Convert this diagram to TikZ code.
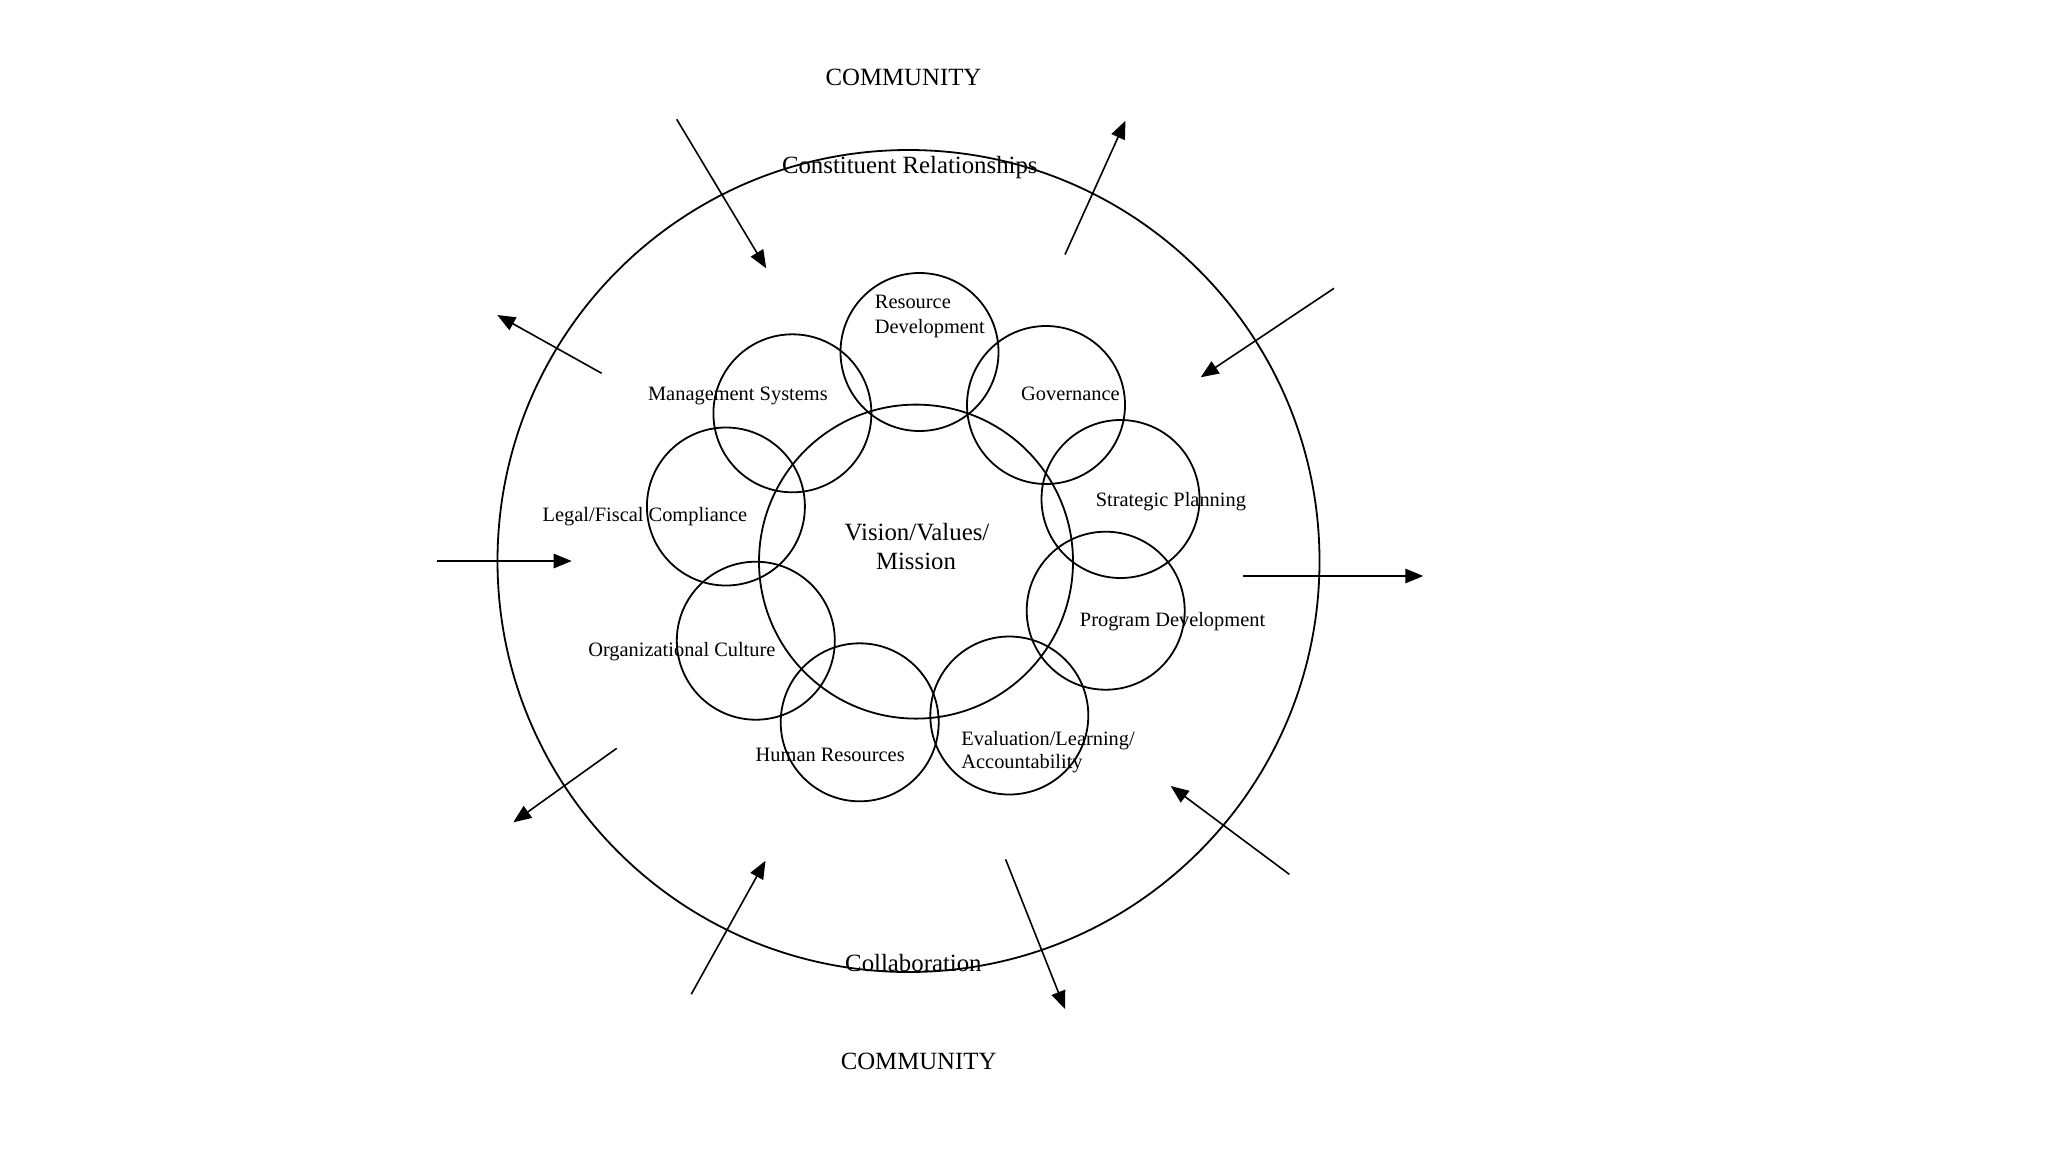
\documentclass[tikz,border=0pt]{standalone}
\usepackage{fontspec}
\setmainfont{Liberation Serif}
\usetikzlibrary{arrows.meta}
\begin{document}
\begin{tikzpicture}[x=0.5pt,y=-0.5pt,
  ring/.style={draw=black,line width=0.9pt},
  flow/.style={draw=black,line width=0.8pt,-{Triangle[length=9pt,width=7.2pt]}},
  big/.style={font=\fontsize{12.4}{14}\selectfont,inner sep=0pt},
  small/.style={font=\fontsize{10.2}{12}\selectfont,inner sep=0pt}]
\useasboundingbox[fill=white] (0,0) rectangle (2048,1152);

% circle centres
\coordinate (outerc) at (908.5,561);
\coordinate (visc) at (916,561.6);
\coordinate (rdc) at (919.5,352);
\coordinate (gvc) at (1046,405);
\coordinate (spc) at (1120.5,499);
\coordinate (pdc) at (1105.7,610.7);
\coordinate (elc) at (1009.3,715.5);
\coordinate (hrc) at (859.7,722.3);
\coordinate (occ) at (755.8,640.7);
\coordinate (lfc) at (725.9,506.5);
\coordinate (msc) at (792.4,413.3);

\draw[ring] (outerc) circle[radius=411];
\draw[ring] (visc) circle[radius=157];
\foreach \c in {rdc,gvc,spc,pdc,elc,hrc,occ,lfc,msc}
  \draw[ring] (\c) circle[radius=79];

% labels
\node[big,anchor=base] (comtop) at (903.5,85.7) {COMMUNITY};
\node[big,anchor=base] (constit) at (909.8,173.3) {Constituent Relationships};
\node[big,anchor=base] (collab) at (913.4,971.7) {Collaboration};
\node[big,anchor=base] (combot) at (918.6,1069.3) {COMMUNITY};
\node[big,anchor=base] (vis1) at (917,540) {Vision/Values/};
\node[big,anchor=base] (vis2) at (916,569.3) {Mission};

\node[small,anchor=base west] (rd1) at (874.5,308.3) {Resource};
\node[small,anchor=base west] (rd2) at (874.5,333.3) {Development};
\node[small,anchor=base west] (gov) at (1020.8,400.7) {Governance};
\node[small,anchor=base west] (ms) at (647.7,400.7) {Management Systems};
\node[small,anchor=base west] (sp) at (1095.4,506) {Strategic Planning};
\node[small,anchor=base west] (lf) at (542.3,521.7) {Legal/Fiscal Compliance};
\node[small,anchor=base west] (oc) at (587.9,656) {Organizational Culture};
\node[small,anchor=base west] (pd) at (1079.5,626.7) {Program Development};
\node[small,anchor=base west] (hr) at (755.3,761) {Human Resources};
\node[small,anchor=base west] (el1) at (961,745.7) {Evaluation/Learning/};
\node[small,anchor=base west] (el2) at (961,768.3) {Accountability};

% arrows
\coordinate (a1s) at (676.7,119.3);  \coordinate (a1e) at (766.2,268.3);
\coordinate (a2s) at (1065,254.5);   \coordinate (a2e) at (1125.5,120.7);
\coordinate (a3s) at (1334,288.3);   \coordinate (a3e) at (1200.7,377.3);
\coordinate (a4s) at (601.7,373.3);  \coordinate (a4e) at (497.3,315);
\coordinate (a5s) at (436.7,561);    \coordinate (a5e) at (571.7,561);
\coordinate (a6s) at (1243.3,576);   \coordinate (a6e) at (1423.3,576);
\coordinate (a7s) at (616.7,748.3);  \coordinate (a7e) at (513.3,822.3);
\coordinate (a8s) at (1289.3,874.3); \coordinate (a8e) at (1170.7,786);
\coordinate (a9s) at (691.2,994.3);  \coordinate (a9e) at (765.5,860.7);
\coordinate (a10s) at (1005.6,859.3);\coordinate (a10e) at (1065,1009);
\foreach \i in {1,...,10}
  \draw[flow] (a\i s) -- (a\i e);
\end{tikzpicture}
\end{document}
